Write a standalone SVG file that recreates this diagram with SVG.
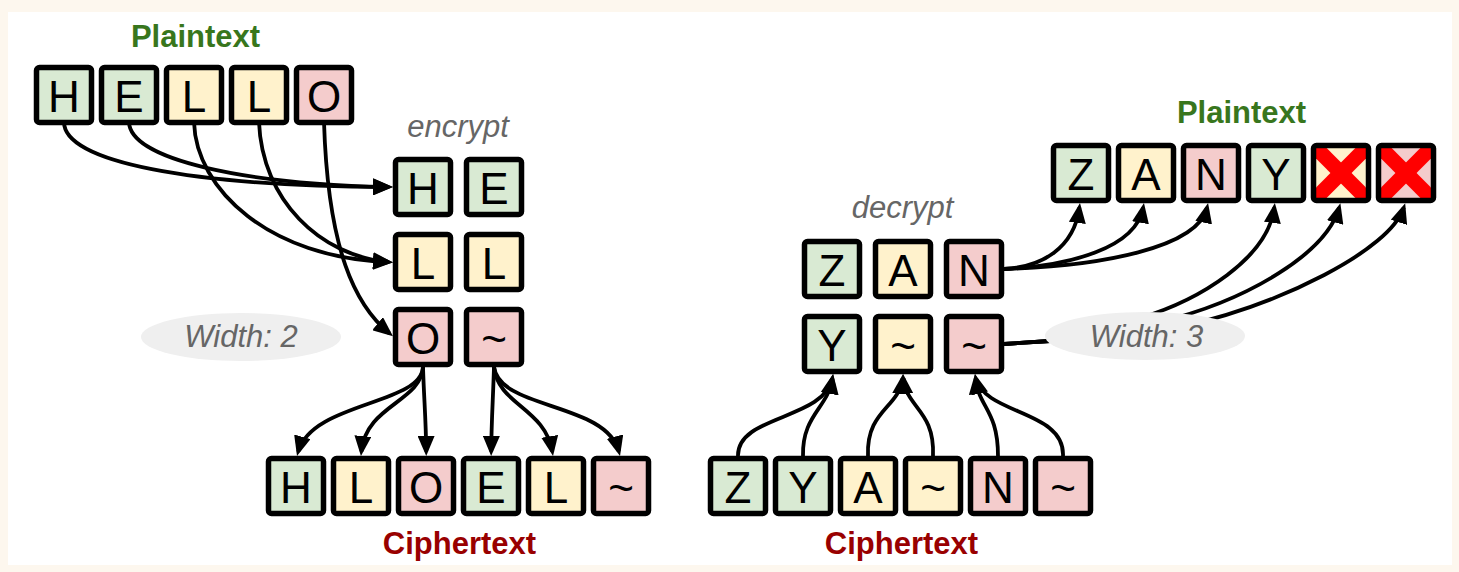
<svg xmlns="http://www.w3.org/2000/svg" width="1459" height="572" viewBox="0 0 1459 572">
  <style>
    .box { stroke: #000; stroke-width: 5.5; }
    .frame { fill: none; stroke: #000; stroke-width: 5.5; }
    .g { fill: #d9ead3; }
    .y { fill: #fff2cc; }
    .r { fill: #f4cccc; }
    .ch { font-family: "Liberation Sans", Arial, sans-serif; font-size: 44px; text-anchor: middle; fill: #000; }
    .head { font-family: "Liberation Sans", Arial, sans-serif; font-size: 31px; font-weight: bold; text-anchor: middle; }
    .plain { fill: #38761d; }
    .cipher { fill: #990000; }
    .op { font-family: "Liberation Sans", Arial, sans-serif; font-size: 31px; font-style: italic; text-anchor: middle; fill: #666666; }
    .pill { fill: #efefef; }
    .link { fill: none; stroke: #000; stroke-width: 3.8; stroke-linejoin: round; marker-end: url(#arrow); }
    .cross { stroke: #ff0000; stroke-width: 15; }
  </style>
  <defs>
    <marker id="arrow" markerUnits="userSpaceOnUse" markerWidth="20" markerHeight="17" refX="15.5" refY="8.5" orient="auto">
      <path d="M0,0 L20,8.5 L0,17 Z" fill="#000"/>
    </marker>
    <clipPath id="clipX1"><rect x="1316" y="148" width="50" height="50"/></clipPath>
    <clipPath id="clipX2"><rect x="1381" y="148" width="50" height="50"/></clipPath>
  </defs>

  <!-- page -->
  <rect x="0" y="0" width="1459" height="572" fill="#fdf7ee"/>
  <rect x="8" y="12" width="1444" height="553" fill="#ffffff"/>

  <!-- connectors -->
  <g id="connectors">
    <!-- HELLO into the 2-wide grid -->
    <path class="link" d="M64,122 C64,162 190,186 388.5,187"/>
    <path class="link" d="M129,122 C130,160 245,184 388.5,187"/>
    <path class="link" d="M194,122 C196,190 270,258 388.5,262"/>
    <path class="link" d="M259,122 C262,200 320,256 388.5,262"/>
    <path class="link" d="M324,122 C328,250 355,305 389.5,333.5"/>
    <!-- grid columns out to ciphertext -->
    <path class="link" d="M423,367 C421,405 312,402 298.2,451.7"/>
    <path class="link" d="M423,367 C421,402 366,405 361.4,451.5"/>
    <path class="link" d="M423,367 C424,400 426,420 426.2,451.5"/>
    <path class="link" d="M494,367 C493,400 491.5,420 491.2,451.5"/>
    <path class="link" d="M494,367 C498,405 545,408 552.3,451.6"/>
    <path class="link" d="M494,367 C500,410 606,402 618.9,451.6"/>
    <!-- ciphertext into the 3-wide grid -->
    <path class="link" d="M738,456 C737,415 824,420 832.2,378.4"/>
    <path class="link" d="M803,456 C802,415 828,408 832.5,378.5"/>
    <path class="link" d="M868,456 C866,410 899,408 902.5,378.5"/>
    <path class="link" d="M933,456 C935,410 906,408 903.5,378.5"/>
    <path class="link" d="M998,456 C998,410 979,408 975.5,378.5"/>
    <path class="link" d="M1063,456 C1065,410 985,415 976,378.4"/>
    <!-- grid rows out to plaintext -->
    <path class="link" d="M1004,269 C1042,267 1074,248 1079.4,207.5"/>
    <path class="link" d="M1004,269 C1070,266 1136,248 1143.2,207.5"/>
    <path class="link" d="M1004,269 C1100,266 1198,248 1207.1,207.5"/>
    <path class="link" d="M1004,344 L1050,341 L1140,318 C1200,300 1268,258 1274.3,207.5"/>
    <path class="link" d="M1004,344 L1050,341 L1160,322 C1250,300 1327,252 1339.2,207.6"/>
    <path class="link" d="M1004,344 L1050,341 L1180,327 C1280,305 1390,250 1403.8,207.6"/>
  </g>

  <!-- labels -->
  <g id="label-plaintext-left"><text class="head plain" x="195.5" y="47">Plaintext</text></g>
  <g id="label-encrypt"><text class="op" x="458" y="137">encrypt</text></g>
  <g id="label-ciphertext-left"><text class="head cipher" x="459.5" y="554">Ciphertext</text></g>
  <g id="label-decrypt"><text class="op" x="902.5" y="218">decrypt</text></g>
  <g id="label-ciphertext-right"><text class="head cipher" x="901.5" y="554">Ciphertext</text></g>
  <g id="label-plaintext-right"><text class="head plain" x="1241.5" y="123">Plaintext</text></g>

  <g id="width-2">
    <ellipse class="pill" cx="241" cy="337" rx="100" ry="24"/>
    <text class="op" x="241" y="347">Width: 2</text>
  </g>
  <g id="width-3">
    <ellipse class="pill" cx="1145" cy="336" rx="100" ry="24"/>
    <text class="op" x="1146.5" y="347">Width: 3</text>
  </g>

  <!-- plaintext HELLO -->
  <g id="p-h"><rect class="box g" x="36.5" y="67.5" width="55" height="55" rx="3"/><text class="ch" x="64" y="112">H</text></g>
  <g id="p-e"><rect class="box g" x="101.5" y="67.5" width="55" height="55" rx="3"/><text class="ch" x="129" y="112">E</text></g>
  <g id="p-l1"><rect class="box y" x="166.5" y="67.5" width="55" height="55" rx="3"/><text class="ch" x="194" y="112">L</text></g>
  <g id="p-l2"><rect class="box y" x="231.5" y="67.5" width="55" height="55" rx="3"/><text class="ch" x="259" y="112">L</text></g>
  <g id="p-o"><rect class="box r" x="296.5" y="67.5" width="55" height="55" rx="3"/><text class="ch" x="324" y="112">O</text></g>

  <!-- encrypt grid, width 2 -->
  <g id="e-h"><rect class="box g" x="395.5" y="159.5" width="55" height="55" rx="3"/><text class="ch" x="423" y="204">H</text></g>
  <g id="e-e"><rect class="box g" x="466.5" y="159.5" width="55" height="55" rx="3"/><text class="ch" x="494" y="204">E</text></g>
  <g id="e-l1"><rect class="box y" x="395.5" y="234.5" width="55" height="55" rx="3"/><text class="ch" x="423" y="279">L</text></g>
  <g id="e-l2"><rect class="box y" x="466.5" y="234.5" width="55" height="55" rx="3"/><text class="ch" x="494" y="279">L</text></g>
  <g id="e-o"><rect class="box r" x="395.5" y="309.5" width="55" height="55" rx="3"/><text class="ch" x="423" y="354">O</text></g>
  <g id="e-pad"><rect class="box r" x="466.5" y="309.5" width="55" height="55" rx="3"/><text class="ch" x="494" y="354">~</text></g>

  <!-- ciphertext HLOEL~ -->
  <g id="c1-h"><rect class="box g" x="268.5" y="458.5" width="55" height="55" rx="3"/><text class="ch" x="296" y="503">H</text></g>
  <g id="c1-l1"><rect class="box y" x="333.5" y="458.5" width="55" height="55" rx="3"/><text class="ch" x="361" y="503">L</text></g>
  <g id="c1-o"><rect class="box r" x="398.5" y="458.5" width="55" height="55" rx="3"/><text class="ch" x="426" y="503">O</text></g>
  <g id="c1-e"><rect class="box g" x="463.5" y="458.5" width="55" height="55" rx="3"/><text class="ch" x="491" y="503">E</text></g>
  <g id="c1-l2"><rect class="box y" x="528.5" y="458.5" width="55" height="55" rx="3"/><text class="ch" x="556" y="503">L</text></g>
  <g id="c1-pad"><rect class="box r" x="593.5" y="458.5" width="55" height="55" rx="3"/><text class="ch" x="621" y="503">~</text></g>

  <!-- ciphertext ZYA~N~ -->
  <g id="c2-z"><rect class="box g" x="710.5" y="458.5" width="55" height="55" rx="3"/><text class="ch" x="738" y="503">Z</text></g>
  <g id="c2-y"><rect class="box g" x="775.5" y="458.5" width="55" height="55" rx="3"/><text class="ch" x="803" y="503">Y</text></g>
  <g id="c2-a"><rect class="box y" x="840.5" y="458.5" width="55" height="55" rx="3"/><text class="ch" x="868" y="503">A</text></g>
  <g id="c2-pad1"><rect class="box y" x="905.5" y="458.5" width="55" height="55" rx="3"/><text class="ch" x="933" y="503">~</text></g>
  <g id="c2-n"><rect class="box r" x="970.5" y="458.5" width="55" height="55" rx="3"/><text class="ch" x="998" y="503">N</text></g>
  <g id="c2-pad2"><rect class="box r" x="1035.5" y="458.5" width="55" height="55" rx="3"/><text class="ch" x="1063" y="503">~</text></g>

  <!-- decrypt grid, width 3 -->
  <g id="d-z"><rect class="box g" x="804.5" y="241.5" width="55" height="55" rx="3"/><text class="ch" x="832" y="286">Z</text></g>
  <g id="d-a"><rect class="box y" x="875.5" y="241.5" width="55" height="55" rx="3"/><text class="ch" x="903" y="286">A</text></g>
  <g id="d-n"><rect class="box r" x="946.5" y="241.5" width="55" height="55" rx="3"/><text class="ch" x="974" y="286">N</text></g>
  <g id="d-y"><rect class="box g" x="804.5" y="316.5" width="55" height="55" rx="3"/><text class="ch" x="832" y="361">Y</text></g>
  <g id="d-pad1"><rect class="box y" x="875.5" y="316.5" width="55" height="55" rx="3"/><text class="ch" x="903" y="361">~</text></g>
  <g id="d-pad2"><rect class="box r" x="946.5" y="316.5" width="55" height="55" rx="3"/><text class="ch" x="974" y="361">~</text></g>

  <!-- plaintext ZANY plus dropped padding -->
  <g id="q-z"><rect class="box g" x="1053.5" y="145.5" width="55" height="55" rx="3"/><text class="ch" x="1081" y="190">Z</text></g>
  <g id="q-a"><rect class="box y" x="1118.5" y="145.5" width="55" height="55" rx="3"/><text class="ch" x="1146" y="190">A</text></g>
  <g id="q-n"><rect class="box r" x="1183.5" y="145.5" width="55" height="55" rx="3"/><text class="ch" x="1211" y="190">N</text></g>
  <g id="q-y"><rect class="box g" x="1248.5" y="145.5" width="55" height="55" rx="3"/><text class="ch" x="1276" y="190">Y</text></g>
  <g id="q-x1">
    <rect class="y" x="1313.5" y="145.5" width="55" height="55"/>
    <g clip-path="url(#clipX1)">
      <line class="cross" x1="1316" y1="148" x2="1366" y2="198"/>
      <line class="cross" x1="1366" y1="148" x2="1316" y2="198"/>
    </g>
    <rect class="frame" x="1313.5" y="145.5" width="55" height="55" rx="3"/>
  </g>
  <g id="q-x2">
    <rect class="r" x="1378.5" y="145.5" width="55" height="55"/>
    <g clip-path="url(#clipX2)">
      <line class="cross" x1="1381" y1="148" x2="1431" y2="198"/>
      <line class="cross" x1="1431" y1="148" x2="1381" y2="198"/>
    </g>
    <rect class="frame" x="1378.5" y="145.5" width="55" height="55" rx="3"/>
  </g>
</svg>
